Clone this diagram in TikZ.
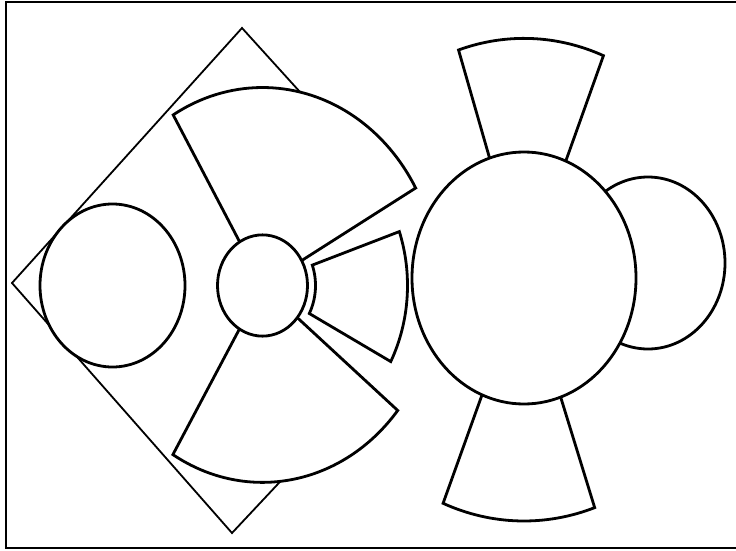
\documentclass[tikz,border=0pt]{standalone}
\usetikzlibrary{calc}

\begin{document}
\begin{tikzpicture}[
  x=1pt,y=-1pt,
  part/.style={line width=2.8pt,draw=black,fill=white,line join=miter},
  edge/.style={line width=1.8pt,draw=black},
  frm/.style={line width=1.6pt,draw=black}
]
\useasboundingbox (0,0) rectangle (736,551);

% ================= frame (right side runs off) =================
\draw[frm] (736,2) -- (6,2) -- (6,548) -- (736,548);

% ================= tilted square, mostly hidden =================
\coordinate (sqT) at (242,28);
\coordinate (sqL) at (12,283);
\coordinate (sqB) at (232,533);
\draw[edge] (310,103) -- (sqT) -- (sqL) -- (sqB) -- (292,469);

% left disc sits over the square
\coordinate (lc) at (112.5,285.5);
\draw[part] (lc) ellipse[x radius=72.5,y radius=81.5];

% ================= fan: three blades round a hub =================
\begin{scope}[shift={(262.5,285.5)},yscale=-1.125]
  \draw[part] (0,0) -- (120.5:176) arc[start angle=120.5,end angle=29.5,radius=176] -- cycle;
  \draw[part] (0,0) -- (-120.8:175) arc[start angle=-120.8,end angle=-39.4,radius=175] -- cycle;
  \draw[part] (20:53) -- (19.3:145) arc[start angle=19.3,end angle=-27.8,radius=145]
    -- (-28:53) arc[start angle=-28,end angle=20,radius=53] -- cycle;
  \draw[part] (0,0) circle[radius=45];
\end{scope}

% ================= big disc with two blades =================
\begin{scope}[shift={(524,278)},yscale=-1.125]
  \draw[part] (0,0) -- (107.9:213) arc[start angle=107.9,end angle=68.1,radius=213] -- cycle;
  \draw[part] (0,0) -- (-112:216) arc[start angle=-112,end angle=-70.9,radius=216] -- cycle;
\end{scope}

% small disc behind the big one
\coordinate (rc) at (648,263);
\draw[part] (rc) ellipse[x radius=77,y radius=86];

\begin{scope}[shift={(524,278)},yscale=-1.125]
  \draw[part] (0,0) circle[radius=112];
\end{scope}

\end{tikzpicture}
\end{document}
